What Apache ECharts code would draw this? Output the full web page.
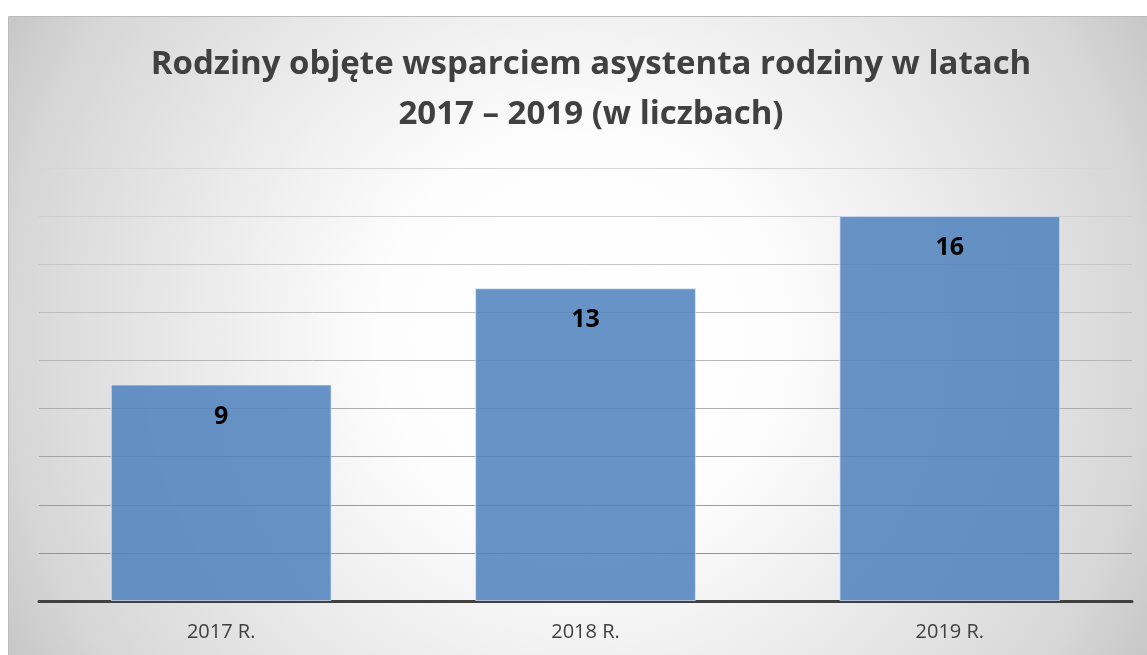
<!DOCTYPE html>
<html>
<head>
<meta charset="utf-8">
<script src="https://cdn.jsdelivr.net/npm/echarts@6/dist/echarts.min.js"></script>
<style>
  html, body { margin: 0; padding: 0; background: #fff; }
</style>
</head>
<body>
<div id="main" style="width:1147px;height:655px"></div>
<script type="text/javascript">
    var myChart = echarts.init(document.getElementById('main'));

    var lata = ['2017 R.', '2018 R.', '2019 R.'];
    var rodziny = [9, 13, 16];
    var tytul = 'Rodziny objęte wsparciem asystenta rodziny w latach\n2017 – 2019 (w liczbach)';

    var option = {
        backgroundColor: '#fff',
        graphic: [{
            type: 'rect',
            z: -10,
            silent: true,
            shape: { x: 8.5, y: 16.5, width: 1139, height: 639 },
            style: {
                // tło: gradient od środka
                fill: {
                    type: 'radial', x: 0.5, y: 0.5, r: 1.03,
                    colorStops: [
                        { offset: 0, color: '#ffffff' },
                        { offset: 0.3, color: '#fdfdfd' },
                        { offset: 0.5, color: '#f0f0f0' },
                        { offset: 0.86, color: '#d7d7d7' },
                        { offset: 1, color: '#c6c6c6' }
                    ]
                },
                stroke: '#bcbcbc',
                lineWidth: 1
            }
        }],
        title: {
            text: tytul,
            left: 586,
            textAlign: 'center',
            top: 35,
            textStyle: {
                fontFamily: 'Open Sans',
                fontWeight: 'bold',
                fontSize: 33,
                lineHeight: 50,
                color: '#404040'
            }
        },
        grid: { left: 39, right: 15, top: 168, bottom: 54 },
        xAxis: {
            type: 'category',
            data: lata,
            axisTick: { show: false },
            axisLine: { lineStyle: { color: '#404040', width: 3 } },
            axisLabel: {
                margin: 21,
                fontFamily: 'Open Sans',
                fontSize: 20,
                color: '#404040'
            }
        },
        yAxis: {
            type: 'value',
            min: 0,
            max: 18,
            interval: 2,
            axisLabel: { show: false },
            splitLine: {
                lineStyle: {
                    width: 1,
                    color: {
                        type: 'linear', x: 0, y: 160, x2: 0, y2: 600, global: true,
                        colorStops: [
                            { offset: 0, color: '#d8d8d8' },
                            { offset: 1, color: '#8c8c8c' }
                        ]
                    }
                }
            }
        },
        series: [{
            type: 'bar',
            data: rodziny,
            barWidth: '60.6%',
            itemStyle: {
                color: 'rgba(79,129,189,0.86)',
                borderColor: 'rgba(225,235,250,0.7)',
                borderWidth: 1
            },
            label: {
                show: true,
                position: 'insideTop',
                distance: 19,
                fontFamily: 'Open Sans',
                fontWeight: 'bold',
                fontSize: 25,
                lineHeight: 26,
                color: '#000'
            }
        }]
    };
    myChart.setOption(option);
</script>
</body>
</html>
